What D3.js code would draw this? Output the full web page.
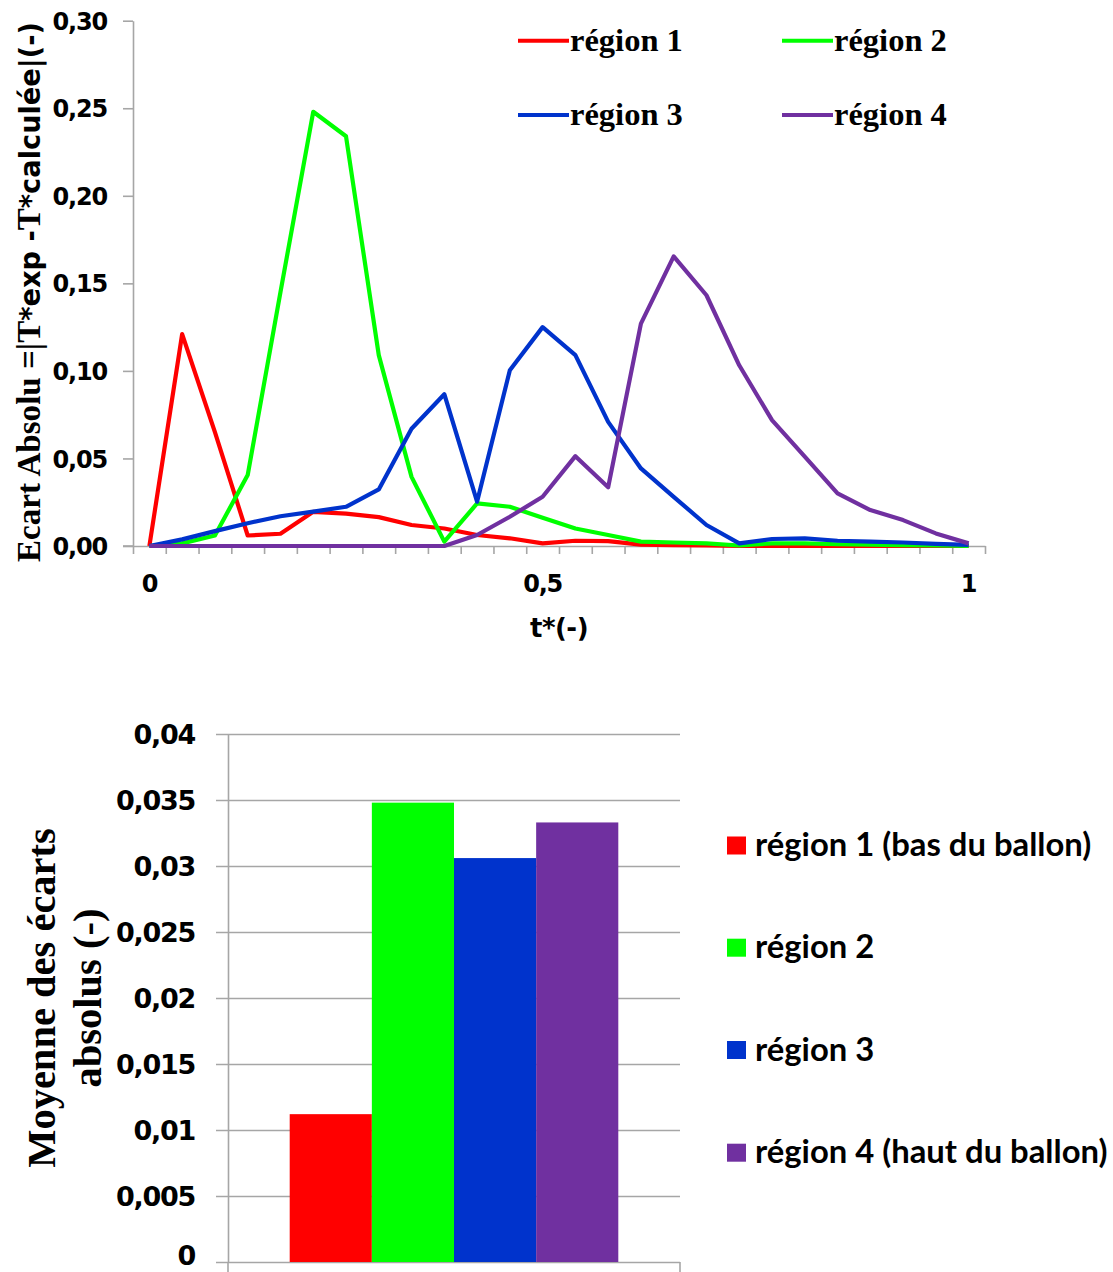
<!DOCTYPE html>
<html><head><meta charset="utf-8">
<script src="https://cdn.jsdelivr.net/npm/d3@7"></script>
<style>
html,body{margin:0;padding:0;background:#fff;}
svg{display:block;}
</style></head>
<body>
<svg id="chart" width="1113" height="1272"></svg>
<script>
// ---------- DATA ----------
const tCategories = [0,1,2,3,4,5,6,7,8,9,10,11,12,13,14,15,16,17,18,19,20,21,22,23,24,25];
const xTickPositions = [0, 12, 25];
const xTickLabels = ["0", "0,5", "1"];
const lineSeriesNames = ["région 1", "région 2", "région 3", "région 4"];
const region1 = [0, 0.121, 0.065, 0.006, 0.007, 0.0195, 0.0185, 0.0165, 0.012, 0.010, 0.0063, 0.0044, 0.0015, 0.003, 0.0028, 0.0008, 0.0005, 0.0003, 0, 0, 0, 0, 0, 0, 0, 0];
const region2 = [0, 0.0015, 0.006, 0.0405, 0.145, 0.248, 0.234, 0.109, 0.0395, 0.0025, 0.0243, 0.0224, 0.0162, 0.010, 0.0063, 0.0025, 0.002, 0.0015, 0.0003, 0.0015, 0.0015, 0.001, 0.0007, 0.0005, 0.0003, 0];
const region3 = [0, 0.0038, 0.0085, 0.013, 0.017, 0.0196, 0.0224, 0.0323, 0.067, 0.0867, 0.0253, 0.1004, 0.125, 0.109, 0.0709, 0.0443, 0.0281, 0.012, 0.0015, 0.004, 0.0044, 0.003, 0.0025, 0.002, 0.0012, 0.0006];
const region4 = [0, 0, 0, 0, 0, 0, 0, 0, 0, 0, 0.0063, 0.0167, 0.0281, 0.0513, 0.0335, 0.127, 0.1654, 0.1432, 0.1032, 0.0719, 0.051, 0.030, 0.0205, 0.0148, 0.0072, 0.0015];
const lineYTicks = [0, 0.05, 0.10, 0.15, 0.20, 0.25, 0.30];

const barCategories = ["région 1 (bas du ballon)", "région 2", "région 3", "région 4 (haut du ballon)"];
const barValues = [0.0112, 0.0348, 0.0306, 0.0333];
const barYTicks = [0, 0.005, 0.01, 0.015, 0.02, 0.025, 0.03, 0.035, 0.04];

const colors = ["#ff0000", "#00ff00", "#0033cc", "#7030a0"];

// ---------- STYLE ----------
const axisColor = "#a6a6a6";
const serif = "'Liberation Serif', 'Times New Roman', serif";
const sans = "'DejaVu Sans', Verdana, sans-serif";
const legendSans = "Lato, 'Liberation Sans', sans-serif";

const svg = d3.select("#chart");
const commaFmt = v => String(v).replace(".", ",");
const fmt2 = v => v.toFixed(2).replace(".", ",");

// ================= TOP LINE CHART =================
const topG = svg.append("g");
const xL = 133, xR = 985, yB = 546, yT = 20.7;
const xPoint = d3.scalePoint().domain(tCategories).range([xL, xR]).padding(0.5);
const xEdge = d3.scaleLinear().domain([0, tCategories.length]).range([xL, xR]);
const yLine = d3.scaleLinear().domain([0, 0.30]).range([yB, yT]);

// Y axis
const yAxisG = topG.append("g").attr("transform", `translate(${xL},0)`)
  .call(d3.axisLeft(yLine).tickValues(lineYTicks).tickSize(10).tickSizeOuter(0).tickFormat(fmt2));
yAxisG.select(".domain").attr("stroke", axisColor).attr("stroke-width", 1.6);
yAxisG.selectAll(".tick line").attr("stroke", axisColor).attr("stroke-width", 1.6);
yAxisG.selectAll(".tick text").attr("x", -26).attr("dy", "0.36em")
  .style("font-family", sans).style("font-weight", "bold").style("font-size", "24px")
  .style("letter-spacing", "-1.2px").attr("fill", "#000");

// X axis (ticks at category edges)
const xAxisG = topG.append("g").attr("transform", `translate(0,${yB})`)
  .call(d3.axisBottom(xEdge).tickValues(d3.range(tCategories.length + 1)).tickSize(8).tickSizeOuter(0).tickFormat(""));
xAxisG.select(".domain").attr("stroke", axisColor).attr("stroke-width", 1.6);
xAxisG.selectAll(".tick line").attr("stroke", axisColor).attr("stroke-width", 1.6);
topG.append("line").attr("x1", xL - 10).attr("x2", xL).attr("y1", yB).attr("y2", yB)
  .attr("stroke", axisColor).attr("stroke-width", 1.6);

// X labels
topG.selectAll("text.xlab").data(xTickPositions).enter().append("text")
  .attr("class", "xlab")
  .attr("x", d => xPoint(d)).attr("y", 592)
  .attr("text-anchor", "middle")
  .style("font-family", sans).style("font-weight", "bold").style("font-size", "24px")
  .style("letter-spacing", "-1.2px")
  .text((d, i) => xTickLabels[i]);

// X title
topG.append("text").attr("x", (xL + xR) / 2).attr("y", 637).attr("text-anchor", "middle")
  .style("font-family", sans).style("font-weight", "bold").style("font-size", "26px")
  .style("letter-spacing", "-0.5px").text("t*(-)");

// Y title (mixed fonts)
const yt = topG.append("text").attr("transform", "translate(40,292) rotate(-90)")
  .attr("text-anchor", "middle")
  .attr("textLength", 540).attr("lengthAdjust", "spacingAndGlyphs")
  .style("font-weight", "bold");
yt.append("tspan").style("font-family", serif).style("font-size", "34px").text("Ecart Absolu =|T");
yt.append("tspan").style("font-family", sans).style("font-size", "28px").text("*exp -");
yt.append("tspan").style("font-family", serif).style("font-size", "34px").text("T");
yt.append("tspan").style("font-family", sans).style("font-size", "28px").text("*calculée|(-)");

// Lines
const lineData = [region1, region2, region3, region4];
const lineGen = d3.line().x((d, i) => xPoint(tCategories[i])).y(d => yLine(d));
topG.selectAll("path.series").data(lineData).enter().append("path")
  .attr("class", "series")
  .attr("d", d => lineGen(d))
  .attr("fill", "none")
  .attr("stroke", (d, i) => colors[i])
  .attr("stroke-width", 4.2)
  .attr("stroke-linejoin", "round");

// Legend (top)
const legPos = [[518, 40.7], [782, 40.7], [518, 115], [782, 115]];
const lg = topG.selectAll("g.leg").data(lineSeriesNames).enter().append("g").attr("class", "leg")
  .attr("transform", (d, i) => `translate(${legPos[i][0]},${legPos[i][1]})`);
lg.append("line").attr("x1", 0).attr("x2", 51).attr("y1", 0).attr("y2", 0)
  .attr("stroke", (d, i) => colors[i]).attr("stroke-width", 4);
lg.append("text").attr("x", 52).attr("y", 10)
  .style("font-family", serif).style("font-weight", "bold").style("font-size", "32.5px")
  .text(d => d);

// ================= BOTTOM BAR CHART =================
const botG = svg.append("g");
const bL = 228, bR = 680, bB = 1262, bT = 734;
const yBar = d3.scaleLinear().domain([0, 0.04]).range([bB, bT]);
const xGroup = d3.scaleBand().domain(["all"]).range([bL, bR]).paddingInner(0.273).paddingOuter(0.1365);
const xSeries = d3.scaleBand().domain(barCategories).range([0, xGroup.bandwidth()]);

// gridlines + y axis
const yBarAxis = botG.append("g").attr("transform", `translate(${bL},0)`)
  .call(d3.axisLeft(yBar).tickValues(barYTicks).tickSize(12).tickSizeOuter(0).tickFormat(commaFmt));
yBarAxis.select(".domain").attr("stroke", axisColor).attr("stroke-width", 1.6);
yBarAxis.selectAll(".tick line").attr("stroke", axisColor).attr("stroke-width", 1.6)
  .attr("x2", bR - bL).attr("x1", -12);
yBarAxis.selectAll(".tick text").attr("x", -33)
  .attr("dy", d => d === 0 ? "0.08em" : "0.36em")
  .style("font-family", sans).style("font-weight", "bold").style("font-size", "27px")
  .style("letter-spacing", "-1.3px").attr("fill", "#000");

// category ticks at bottom
botG.selectAll("line.ctick").data([bL, bR]).enter().append("line").attr("class", "ctick")
  .attr("x1", d => d).attr("x2", d => d).attr("y1", bB).attr("y2", bB + 12)
  .attr("stroke", axisColor).attr("stroke-width", 1.6);

// bars
botG.selectAll("rect.bar").data(barValues).enter().append("rect").attr("class", "bar")
  .attr("x", (d, i) => xGroup("all") + xSeries(barCategories[i]))
  .attr("width", xSeries.bandwidth())
  .attr("y", d => yBar(d))
  .attr("height", d => bB - yBar(d))
  .attr("fill", (d, i) => colors[i]);

// y title
const bt = botG.append("text").attr("transform", `translate(55,${(bT + bB) / 2}) rotate(-90)`)
  .attr("text-anchor", "middle")
  .style("font-family", serif).style("font-weight", "bold").style("font-size", "40.5px");
bt.append("tspan").attr("x", 0).attr("dy", 0).text("Moyenne des écarts");
bt.append("tspan").attr("x", 0).attr("dy", 46).text("absolus (-)");

// legend
const legY = [845.5, 947.7, 1050, 1152.7];
const bl = botG.selectAll("g.bleg").data(barCategories).enter().append("g").attr("class", "bleg")
  .attr("transform", (d, i) => `translate(727,${legY[i]})`);
bl.append("rect").attr("x", 0).attr("y", -9).attr("width", 19).attr("height", 18)
  .attr("fill", (d, i) => colors[i]);
bl.append("text").attr("x", 28).attr("y", 10.5)
  .style("font-family", legendSans).style("font-weight", "bold").style("font-size", "32.8px")
  .text(d => d);
</script>
</body></html>
